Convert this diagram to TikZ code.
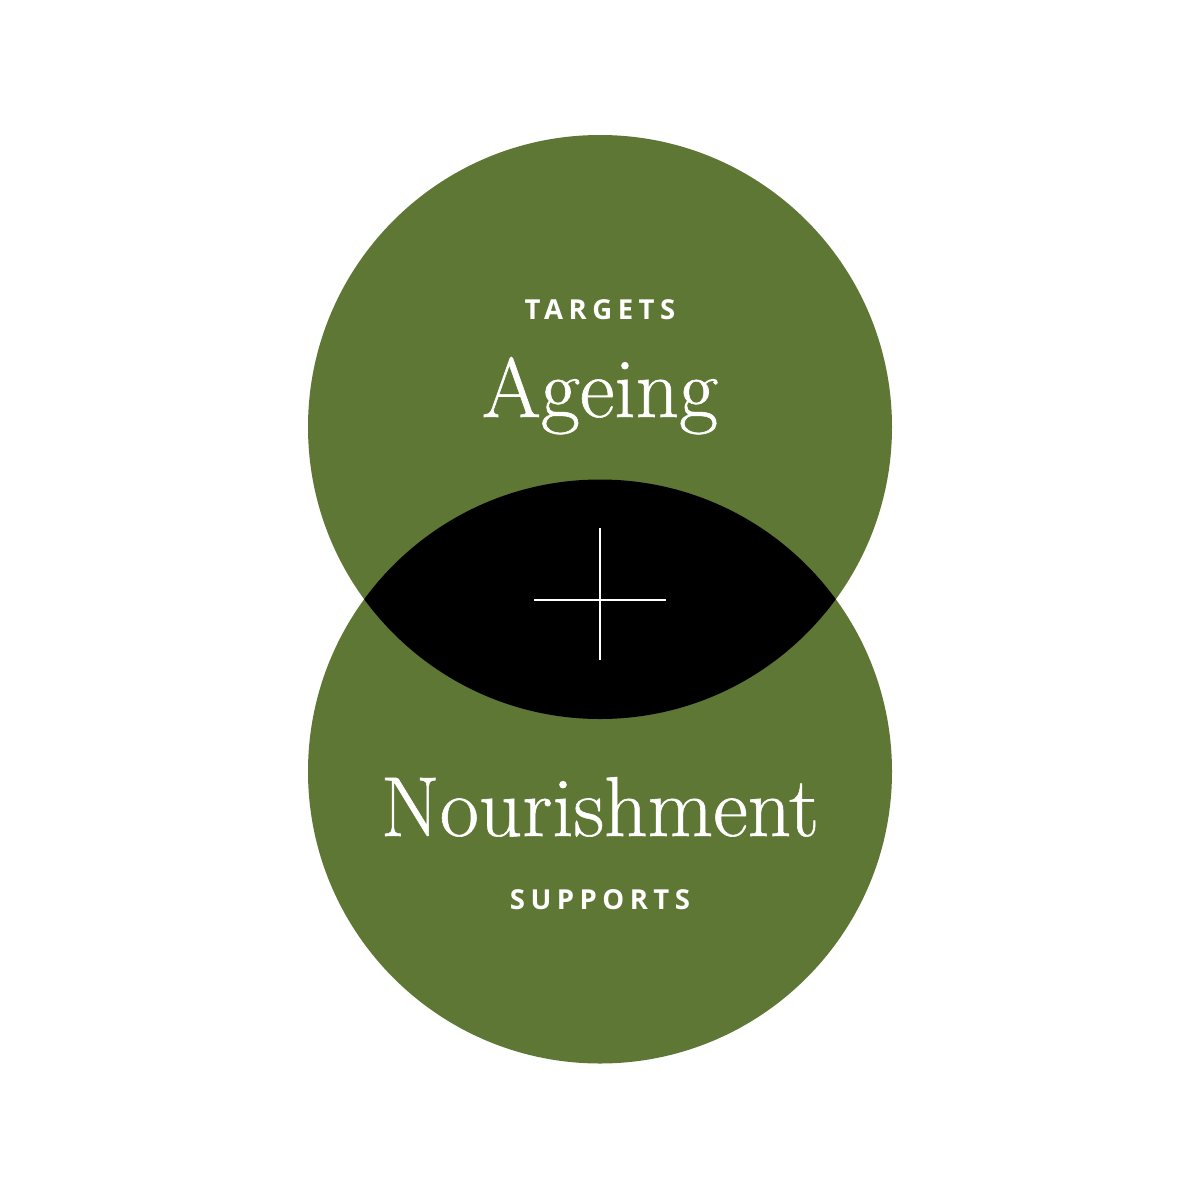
\documentclass[tikz,border=0pt]{standalone}
\usepackage{fontspec}
\newfontfamily\labfont[LetterSpace=20]{Open Sans}
\newfontfamily\titlefont[FakeBold=0.7]{Latin Modern Roman}
\definecolor{leaf}{RGB}{94,119,52}
\begin{document}
\begin{tikzpicture}[x=1pt,y=-1pt,
  small/.style={text=white,font=\labfont\bfseries\fontsize{27.5}{27.5}\selectfont,anchor=base,inner sep=0pt},
  big/.style={text=white,font=\titlefont\fontsize{85}{85}\selectfont,anchor=base,inner sep=0pt},
  crossline/.style={draw=white,line width=1.6pt}]
\useasboundingbox (0,0) rectangle (1200,1200);
\fill[white] (0,0) rectangle (1200,1200);
\fill[leaf] (600,427) circle[radius=292];
\fill[leaf] (600,771.5) circle[radius=292];
\begin{scope}
\clip (600,427) circle[radius=292];
\fill[black] (600,771.5) circle[radius=292];
\end{scope}
\coordinate (vt) at (600,528);
\coordinate (vb) at (600,660);
\coordinate (hl) at (534,600);
\coordinate (hr) at (666,600);
\draw[crossline] (vt) -- (vb);
\draw[crossline] (hl) -- (hr);
\node[small] (targets) at (600,319) {TARGETS};
\node[big] (ageing) at (600,417) {Ageing};
\node[big] (nour) at (600,836) {Nourishment};
\node[small] (supports) at (600,909) {SUPPORTS};
\end{tikzpicture}
\end{document}
